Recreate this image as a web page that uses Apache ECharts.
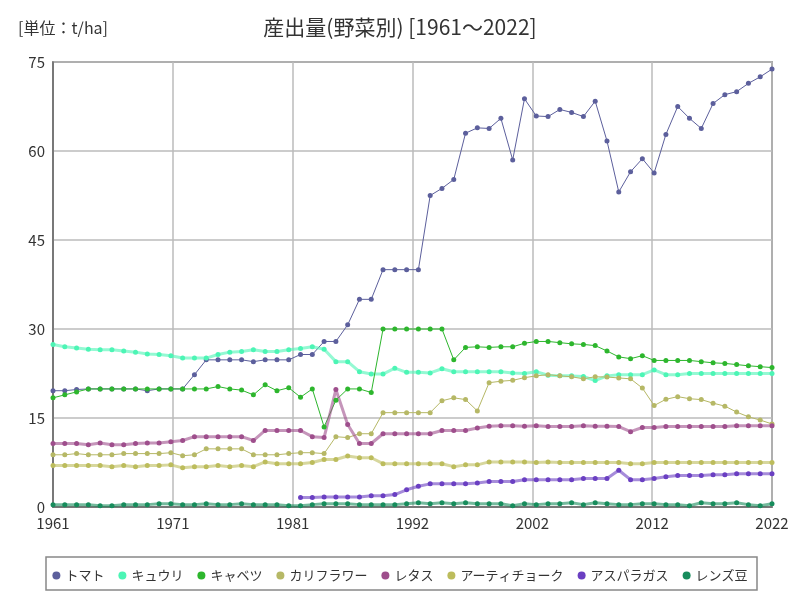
<!DOCTYPE html>
<html>
<head>
<meta charset="utf-8">
<script src="https://cdn.jsdelivr.net/npm/echarts@6/dist/echarts.min.js"></script>
<style>html,body{margin:0;padding:0;background:#fff;}#c{width:800px;height:600px;}</style>
</head>
<body>
<div id="c"></div>
<script>
const years = [1961,1962,1963,1964,1965,1966,1967,1968,1969,1970,1971,1972,1973,1974,1975,1976,1977,1978,1979,1980,1981,1982,1983,1984,1985,1986,1987,1988,1989,1990,1991,1992,1993,1994,1995,1996,1997,1998,1999,2000,2001,2002,2003,2004,2005,2006,2007,2008,2009,2010,2011,2012,2013,2014,2015,2016,2017,2018,2019,2020,2021,2022];
const seriesNames = ['トマト','キュウリ','キャベツ','カリフラワー','レタス','アーティチョーク','アスパラガス','レンズ豆'];
const tomato = [19.6,19.6,19.8,19.9,19.9,19.9,19.9,19.9,19.6,19.9,19.9,19.9,
  22.3,24.8,24.8,24.8,24.8,24.5,24.8,24.8,24.8,25.7,
  25.7,27.9,27.9,30.7,35.0,35.0,40.0,40.0,40.0,40.0,
  52.5,53.7,55.2,63.0,63.9,63.8,65.5,58.5,68.8,65.9,
  65.8,67.0,66.5,65.8,68.4,61.7,53.1,56.5,58.7,56.3,
  62.8,67.5,65.5,63.8,68.0,69.5,70.0,71.4,72.5,73.8];
const cucumber = [27.4,27.0,26.8,26.6,26.5,26.5,26.3,26.1,25.8,25.7,25.5,25.1,
  25.1,25.1,25.7,26.1,26.2,26.5,26.2,26.2,26.5,26.7,
  27.0,26.6,24.5,24.5,22.8,22.4,22.4,23.4,22.7,22.7,
  22.6,23.3,22.8,22.8,22.8,22.8,22.8,22.6,22.5,22.8,
  22.2,22.1,22.1,22.0,21.3,22.1,22.3,22.3,22.3,23.1,
  22.3,22.3,22.5,22.5,22.5,22.5,22.5,22.5,22.5,22.5];
const cabbage = [18.4,18.9,19.4,19.9,19.9,19.9,19.9,19.9,19.9,19.9,19.9,19.9,
  19.9,19.9,20.3,19.9,19.7,18.9,20.6,19.6,20.1,18.5,
  19.9,13.5,18.0,19.9,19.9,19.3,30.0,30.0,30.0,30.0,
  30.0,30.0,24.8,26.9,27.0,26.9,27.0,27.0,27.6,27.9,
  27.9,27.7,27.5,27.4,27.2,26.3,25.3,25.0,25.5,24.7,
  24.7,24.7,24.7,24.5,24.3,24.2,24.0,23.8,23.65,23.5];
const cauliflower = [8.8,8.8,9.0,8.8,8.8,8.8,9.0,9.0,9.0,9.0,9.15,8.65,
  8.8,9.8,9.8,9.8,9.8,8.8,8.8,8.8,9.0,9.15,
  9.15,9.0,11.85,11.7,12.35,12.35,15.9,15.9,15.9,15.9,
  15.9,17.9,18.4,18.1,16.2,20.95,21.2,21.35,21.8,22.1,
  22.3,22.1,21.95,21.6,21.95,21.9,21.75,21.6,20.05,17.1,
  18.15,18.6,18.25,18.1,17.5,17.0,16.0,15.2,14.65,14.0];
const lettuce = [10.7,10.7,10.7,10.5,10.8,10.5,10.5,10.7,10.8,10.8,11.0,11.2,
  11.85,11.85,11.85,11.85,11.85,11.2,12.9,12.9,12.9,12.9,
  11.85,11.7,19.8,13.9,10.7,10.7,12.35,12.35,12.35,12.35,
  12.35,12.9,12.9,12.9,13.3,13.6,13.7,13.7,13.6,13.7,
  13.55,13.55,13.55,13.7,13.6,13.6,13.55,12.7,13.4,13.4,
  13.55,13.55,13.55,13.55,13.55,13.55,13.7,13.7,13.7,13.7];
const artichoke = [7.0,7.0,7.0,7.0,7.0,6.8,7.0,6.8,7.0,7.0,7.1,6.6,
  6.8,6.8,7.0,6.8,7.0,6.8,7.6,7.3,7.3,7.3,
  7.5,8.0,8.0,8.6,8.3,8.3,7.3,7.3,7.3,7.3,
  7.3,7.3,6.8,7.1,7.1,7.6,7.6,7.6,7.6,7.5,
  7.6,7.5,7.5,7.5,7.5,7.5,7.5,7.3,7.3,7.5,
  7.5,7.5,7.5,7.5,7.5,7.5,7.5,7.5,7.5,7.5];
const asparagus = [null,null,null,null,null,null,null,null,null,null,null,null,
  null,null,null,null,null,null,null,null,null,1.6,
  1.6,1.7,1.7,1.7,1.7,1.9,1.9,2.1,2.9,3.5,
  3.9,3.9,3.9,3.9,4.05,4.3,4.3,4.3,4.6,4.6,
  4.6,4.6,4.6,4.8,4.8,4.8,6.2,4.6,4.6,4.8,
  5.1,5.3,5.3,5.3,5.45,5.45,5.6,5.6,5.6,5.6];
const lentils = [0.4,0.4,0.4,0.4,0.2,0.2,0.4,0.4,0.4,0.55,0.55,0.4,
  0.4,0.55,0.4,0.4,0.55,0.4,0.4,0.4,0.2,0.2,
  0.4,0.55,0.55,0.55,0.4,0.4,0.4,0.4,0.55,0.72,
  0.55,0.72,0.55,0.72,0.55,0.55,0.55,0.2,0.55,0.4,
  0.55,0.55,0.72,0.4,0.72,0.55,0.4,0.4,0.55,0.55,
  0.4,0.4,0.2,0.72,0.55,0.55,0.72,0.4,0.2,0.55];

const allValues = [tomato,cucumber,cabbage,cauliflower,lettuce,artichoke,asparagus,lentils];
const colors = ['#5c5f9c','#4cf5b5','#2db62d','#b6b866','#9e4e8c','#bcbc5c','#6a3fc2','#178c5c'];
const thick = [false,true,false,false,true,true,true,true];

const FONT = '"Noto Sans CJK JP", "Noto Sans", sans-serif';

const series = seriesNames.map((name, k) => ({
  name: name,
  type: 'line',
  data: years.map((y, i) => [y, allValues[k][i]]).filter(p => p[1] !== null),
  symbol: 'circle',
  symbolSize: 5,
  showSymbol: true,
  itemStyle: { color: colors[k] },
  lineStyle: thick[k] ? { width: 3, color: colors[k], opacity: 0.6 } : { width: 1, color: colors[k] },
  emphasis: { disabled: true },
  animation: false
}));

const chart = echarts.init(document.getElementById('c'), null, { renderer: 'canvas' });
chart.setOption({
  backgroundColor: '#fff',
  animation: false,
  color: colors,
  title: {
    text: '産出量(野菜別) [1961～2022]',
    left: 'center',
    top: 12,
    textStyle: { fontFamily: FONT, fontSize: 21, fontWeight: 'normal', color: '#333' }
  },
  graphic: [
    { type: 'text', left: 18, top: 20, style: { text: '[単位：t/ha]', font: '16px ' + FONT, fill: '#333' } },
    { type: 'rect', shape: { x: 46, y: 557, width: 711, height: 33 }, style: { fill: 'none', stroke: '#888', lineWidth: 1.5 } }
  ],
  legend: {
    data: seriesNames,
    left: 'center',
    top: 564,
    icon: 'circle',
    itemWidth: 8,
    itemHeight: 8,
    itemGap: 14,
    textStyle: { fontFamily: FONT, fontSize: 13, color: '#333' }
  },
  grid: { left: 53, right: 28, top: 62, bottom: 93, show: true, borderColor: '#666', borderWidth: 1.5 },
  xAxis: {
    type: 'value',
    min: 1961,
    max: 2022,
    interval: 61 / 6,
    axisLine: { show: true, lineStyle: { color: '#666', width: 1.5 } },
    axisTick: { show: false },
    splitLine: { show: true, lineStyle: { color: '#bbb', width: 1.5 } },
    axisLabel: { color: '#333', fontSize: 15, fontFamily: FONT, margin: 9, formatter: v => String(Math.round(v)) }
  },
  yAxis: {
    type: 'value',
    min: 0,
    max: 75,
    interval: 15,
    axisLine: { show: true, lineStyle: { color: '#666', width: 1.5 } },
    axisTick: { show: false },
    splitLine: { show: true, lineStyle: { color: '#bbb', width: 1.5 } },
    axisLabel: { color: '#333', fontSize: 15, fontFamily: FONT, margin: 8 }
  },
  series: series
});
</script>
</body>
</html>
